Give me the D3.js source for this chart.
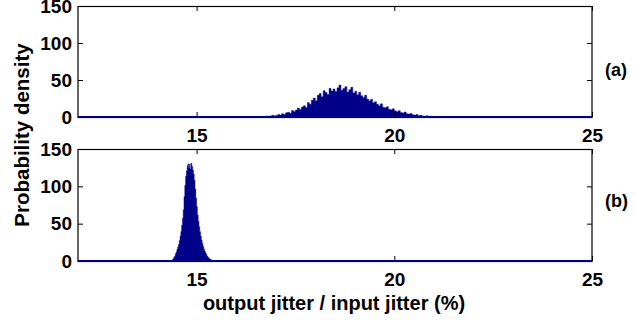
<!DOCTYPE html>
<html>
<head>
<meta charset="utf-8">
<script src="https://cdn.jsdelivr.net/npm/d3@7"></script>
<style>
  body { margin: 0; background: #fff; }
  text { font-family: 'Liberation Sans', Arial, Helvetica, sans-serif; font-weight: bold; }
</style>
</head>
<body>
<div class="container"></div>
<script>
/* histogram data */
var xTicks = [15, 20, 25];
var yTicks = [0, 50, 100, 150];
var xLabel = 'output jitter / input jitter (%)';
var yLabel = 'Probability density';

/* (a) */
var topBinStart = 16.40;
var topBinWidth = 0.05;
var topDensity = [
  0.3, 0.1, 0.5, 0.2, 0.7, 0.9, 0.6, 1.3, 1.0, 1.5,
  2.3, 1.6, 2.0, 3.4, 2.6, 4.5, 3.3, 5.8, 6.4, 5.1,
  8.7, 7.3, 9.4, 12.2, 10.1, 13.6, 15.2, 12.9, 19.5, 17.1,
  22.8, 25.6, 21.9, 29.4, 31.8, 27.2, 35.6, 33.1, 30.4, 38.7,
  35.2, 37.9, 34.6, 39.4, 43.2, 36.1, 38.5, 41.0, 33.8, 36.9,
  40.2, 32.5, 34.8, 30.1, 33.6, 28.7, 26.2, 29.5, 24.3, 21.8,
  23.9, 19.4, 20.6, 17.1, 15.3, 17.8, 13.2, 12.4, 14.0, 10.6,
  9.8, 11.2, 8.3, 7.1, 8.6, 6.2, 5.4, 6.8, 4.3, 3.9,
  4.8, 3.1, 2.6, 3.3, 1.9, 2.2, 1.5, 1.1, 1.7, 0.9,
  1.2, 0.7, 0.5, 0.9, 0.4, 0.6, 0.3, 0.5, 0.2, 0.4,
  0.2, 0.1, 0.3, 0.1
];

/* (b) */
var bottomBinStart = 14.30;
var bottomBinWidth = 0.02;
var bottomDensity = [
  0.2, 0.3, 0.6, 1.0, 1.8, 3.0, 4.6, 6.5, 9.8, 12.1,
  15.4, 18.9, 22.3, 27.5, 33.0, 39.4, 47.8, 57.2, 68.5, 86.4,
  101.3, 113.6, 120.8, 127.5, 130.2, 124.6, 129.8, 123.1, 131.0, 126.7,
  121.9, 116.4, 108.2, 96.5, 84.3, 72.6, 61.5, 53.0, 45.8, 39.2,
  33.1, 27.9, 23.6, 19.8, 16.2, 13.4, 10.9, 8.7, 6.8, 5.2,
  4.1, 3.0, 2.3, 1.6, 1.2, 0.8, 0.6, 0.4, 0.3, 0.2,
  0.1
];

var w = 636;
var h = 324;
var barColor = '#000088';

var svg = d3.select('.container')
  .append('svg')
  .attr('width', w)
  .attr('height', h);

var xScale = d3.scaleLinear()
  .domain([12, 25])
  .range([78, 592]);

function buildPanel(y0, y1, binStart, binWidth, density, tag, tagY) {

  var yScale = d3.scaleLinear()
    .domain([0, 150])
    .range([y0, y1]);

  /* bins as a step area */
  var bins = density.map(function(d, i) {
    return { x: binStart + i * binWidth, y: d };
  });
  bins.push({ x: binStart + density.length * binWidth, y: 0 });

  var area = d3.area()
    .curve(d3.curveStepAfter)
    .x(function(d) { return xScale(d.x); })
    .y0(yScale(0))
    .y1(function(d) { return yScale(d.y); });

  svg.append('path')
    .datum(bins)
    .attr('d', area)
    .attr('fill', barColor)
    .attr('stroke', barColor)
    .attr('stroke-width', 0.4);

  /* frame */
  svg.append('rect')
    .attr('x', 78)
    .attr('y', y1 + 0.5)
    .attr('width', 514)
    .attr('height', y0 - y1)
    .attr('fill', 'none')
    .attr('stroke', '#000')
    .attr('stroke-width', 1.2);

  /* zero bins along the whole axis */
  svg.append('line')
    .attr('x1', xScale(12))
    .attr('x2', xScale(25))
    .attr('y1', yScale(0))
    .attr('y2', yScale(0))
    .attr('stroke', barColor)
    .attr('stroke-width', 2.2);

  /* Axes */
  var xAxis = d3.axisBottom(xScale)
    .tickValues(xTicks)
    .tickSizeInner(-5)
    .tickSizeOuter(0)
    .tickPadding(12);

  var xAxisTop = d3.axisTop(xScale)
    .tickValues(xTicks)
    .tickSizeInner(-5)
    .tickSizeOuter(0)
    .tickFormat('');

  var yAxis = d3.axisLeft(yScale)
    .tickValues(yTicks)
    .tickSizeInner(-5)
    .tickSizeOuter(0)
    .tickPadding(6);

  var yAxisRight = d3.axisRight(yScale)
    .tickValues(yTicks)
    .tickSizeInner(-5)
    .tickSizeOuter(0)
    .tickFormat('');

  var axes = [
    svg.append('g').attr('transform', 'translate(0,' + y0 + ')').call(xAxis),
    svg.append('g').attr('transform', 'translate(0,' + y1 + ')').call(xAxisTop),
    svg.append('g').attr('transform', 'translate(78,0)').call(yAxis),
    svg.append('g').attr('transform', 'translate(592,0)').call(yAxisRight)
  ];

  axes.forEach(function(g) {
    g.select('.domain').remove();
    g.selectAll('line').attr('stroke', '#000');
    g.selectAll('text')
      .attr('fill', '#000')
      .style('font-size', '19px')
      .style('font-family', "'Liberation Sans', Arial, sans-serif")
      .style('font-weight', 'bold');
  });

  svg.append('text')
    .attr('x', 605)
    .attr('y', tagY)
    .style('font-size', '18px')
    .text(tag);
}

buildPanel(117, 6, topBinStart, topBinWidth, topDensity, '(a)', 76);
buildPanel(261, 149, bottomBinStart, bottomBinWidth, bottomDensity, '(b)', 207);

/* axis titles */
svg.append('text')
  .attr('x', 334)
  .attr('y', 310)
  .attr('text-anchor', 'middle')
  .style('font-size', '20px')
  .text(xLabel);

svg.append('text')
  .attr('transform', 'translate(29,135) rotate(-90)')
  .attr('text-anchor', 'middle')
  .style('font-size', '20.5px')
  .text(yLabel);
</script>
</body>
</html>
